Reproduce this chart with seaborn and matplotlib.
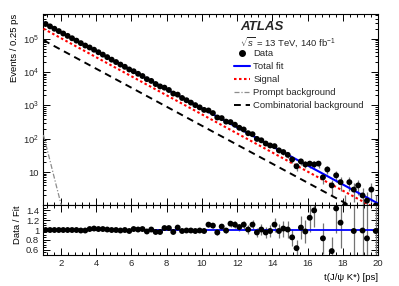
import numpy as np
import matplotlib
matplotlib.use("Agg")
import matplotlib.pyplot as plt
import seaborn as sns
from matplotlib.lines import Line2D
from matplotlib.ticker import MultipleLocator, LogLocator, FuncFormatter, NullFormatter

# Data: events per 0.25 ps bin, from t = 1 to 20 ps
bin_centres = np.arange(1.125, 20.0, 0.25)
counts = [276300, 234500, 199000, 168900, 143300, 121600, 103200, 87560,
          73560, 62420, 54580, 46770, 39300, 33350, 28030, 23550,
          19980, 16790, 14390, 11970, 10570, 8881, 7611, 6142,
          5427, 4378, 3715, 3415, 2898, 2270, 2107, 1669,
          1431, 1214, 1020, 874, 734, 706, 589, 435,
          416, 327, 316, 264, 214, 190, 147, 137,
          99, 90, 72, 63, 60, 45, 40, 33,
          24, 15, 21, 17, 18, 17, 18, 7,
          12, 4, 8, 5, 1, 5, 3, 4,
          2, 1.4, 3, 1]
# Data / Fit as shown in the lower panel (nan = outside the panel range)
ratio = [1.00, 1.00, 1.00, 1.00, 1.00, 1.00, 1.00, 1.00,
         0.99, 0.99, 1.02, 1.03, 1.02, 1.02, 1.01, 1.00,
         1.00, 0.99, 1.00, 0.98, 1.02, 1.01, 1.02, 0.97,
         1.01, 0.96, 0.96, 1.04, 1.04, 0.96, 1.05, 0.98,
         0.99, 0.99, 0.98, 0.99, 0.98, 1.11, 1.09, 0.95,
         1.07, 0.99, 1.13, 1.11, 1.06, 1.11, 1.01, 1.11,
         0.95, 1.01, 0.95, 0.98, 1.11, 0.98, 1.03, 1.01,
         0.85, 0.63, 1.05, 0.97, 1.25, 1.40, np.nan, 0.83,
         np.nan, 0.57, 1.44, 1.15, np.nan, np.nan, 0.98, np.nan,
         0.99, 0.83, np.nan, 0.98]

# Fit components read at a few times
fit_t = [1, 5, 10, 15, 20]
total_fit = [3.0e5, 2.17e4, 815, 30.6, 1.15]
signal_fit = [2.0e5, 1.44e4, 540, 20.1, 0.75]
comb_fit = [9.0e4, 6530, 246, 9.3, 0.35]
prompt_t = [1.0, 1.25, 1.5, 1.75, 2.0, 2.1]
prompt_fit = [130, 40, 12, 3.6, 1.1, 0.6]

sns.set_theme(style="ticks")
plt.rcParams["font.family"] = ["Liberation Sans", "DejaVu Sans"]
plt.rcParams["mathtext.fontset"] = "custom"
plt.rcParams["mathtext.rm"] = "Liberation Sans"
plt.rcParams["mathtext.it"] = "Liberation Sans:italic"
fs = 6.8

counts = np.array(counts, dtype=float)
ratio = np.array(ratio, dtype=float)

fig = plt.figure(figsize=(3.99, 2.86), dpi=100)
ax = fig.add_axes([0.1088, 0.2815, 0.8385, 0.6695])
axr = fig.add_axes([0.1088, 0.110, 0.8385, 0.1715], sharex=ax)

# main panel
ax.set_yscale("log")
ax.errorbar(bin_centres, counts, yerr=np.sqrt(counts), fmt="none",
            ecolor="0.45", elinewidth=0.9, zorder=2)
sns.lineplot(x=fit_t, y=comb_fit, ax=ax, color="black",
             lw=1.4, linestyle=(0, (3.5, 2.5)), zorder=3)
sns.lineplot(x=prompt_t, y=prompt_fit, ax=ax, color="0.55",
             lw=0.9, linestyle=(0, (4, 1.5, 1, 1.5)), zorder=3)
sns.lineplot(x=fit_t, y=signal_fit, ax=ax, color="#ff0000",
             lw=1.5, linestyle=(0, (1.2, 1.2)), zorder=3)
sns.lineplot(x=fit_t, y=total_fit, ax=ax, color="#0000ff",
             lw=1.5, zorder=4)
sns.scatterplot(x=bin_centres, y=counts, ax=ax, color="black", s=18,
                edgecolor="none", zorder=5)

ax.set_xlim(1, 20)
ax.set_ylim(1, 5.5e5)
ax.set_ylabel("Events / 0.25 ps", loc="top", fontsize=fs, labelpad=3)

def log_label(v, pos):
    if abs(v - 10) < 1e-6:
        return "10"
    if v >= 100:
        return r"$10^{%d}$" % round(np.log10(v))
    return ""

ax.yaxis.set_major_locator(LogLocator(base=10, numticks=10))
ax.yaxis.set_minor_locator(LogLocator(base=10, subs=np.arange(2, 10), numticks=20))
ax.yaxis.set_major_formatter(FuncFormatter(log_label))
ax.yaxis.set_minor_formatter(NullFormatter())
plt.setp(ax.get_xticklabels(), visible=False)

# ratio panel
ok = ~np.isnan(ratio)
axr.axhline(1.0, color="#0000ff", lw=1.3, zorder=3)
axr.errorbar(bin_centres[ok], ratio[ok], yerr=ratio[ok] / np.sqrt(counts[ok]),
             fmt="none", ecolor="0.45", elinewidth=0.9, zorder=2)
sns.scatterplot(x=bin_centres[ok], y=ratio[ok], ax=axr, color="black", s=18,
                edgecolor="none", zorder=5)
axr.set_ylim(0.5, 1.5)
axr.set_xlim(1, 20)
axr.yaxis.set_major_locator(MultipleLocator(0.2))
axr.yaxis.set_minor_locator(MultipleLocator(0.05))
axr.yaxis.set_major_formatter(FuncFormatter(
    lambda v, p: "%g" % round(v, 1) if 0.55 < v < 1.45 else ""))
axr.xaxis.set_major_locator(MultipleLocator(2))
axr.xaxis.set_minor_locator(MultipleLocator(0.4))
axr.set_ylabel("Data / Fit", loc="top", fontsize=fs, labelpad=3)
axr.set_xlabel("t(J/\u03c8 K*) [ps]", loc="right", fontsize=fs, labelpad=4)

for a in (ax, axr):
    a.tick_params(which="both", direction="in", top=True, right=True,
                  labelsize=fs, pad=3, width=0.7, color="black")
    a.tick_params(which="major", length=5)
    a.tick_params(which="minor", length=2.5)
    for s in a.spines.values():
        s.set_linewidth(0.8)
        s.set_color("black")
    a.set_facecolor("white")
    a.yaxis.label.set_color("black")
    a.xaxis.label.set_color("black")

# legend
fig.text(240 / 399, 1 - 27 / 286, "ATLAS", fontsize=9.5, fontweight="bold",
         fontstyle="italic", va="center", ha="left")
fig.text(240 / 399, 1 - 42 / 286, r"$\sqrt{s}$ = 13 TeV, 140 fb$^{-1}$",
         fontsize=fs, va="center", ha="left")
handles = [
    Line2D([], [], color="black", marker="o", ms=4, lw=0),
    Line2D([], [], color="#0000ff", lw=1.5),
    Line2D([], [], color="#ff0000", lw=1.5, linestyle=(0, (1.2, 1.2))),
    Line2D([], [], color="0.55", lw=0.9, linestyle=(0, (4, 1.5, 1, 1.5))),
    Line2D([], [], color="black", lw=1.4, linestyle=(0, (3.5, 2.5))),
]
labels = ["Data", "Total fit", "Signal", "Prompt background", "Combinatorial background"]
fig.legend(handles, labels, loc="upper left",
           bbox_to_anchor=(234 / 399, 1 - 49 / 286), frameon=False,
           fontsize=fs, handlelength=1.7, handletextpad=0.35,
           labelspacing=0.42, borderpad=0, borderaxespad=0)

fig.savefig("out.png", dpi=100)
